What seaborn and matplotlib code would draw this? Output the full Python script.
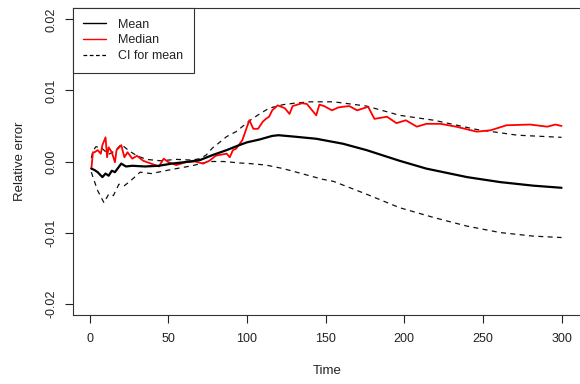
import matplotlib
matplotlib.use("Agg")
import matplotlib.pyplot as plt
from matplotlib.lines import Line2D
import seaborn as sns

# ---- data ----
mean_t = [1, 3, 5, 8, 10, 12, 14, 16, 20, 23, 27, 35, 44, 52, 60, 70, 78, 87, 95,
          100, 108, 116, 120, 130, 144, 161, 176, 197, 214, 240, 261, 282, 300]
mean_v = [-0.0010, -0.0012, -0.0015, -0.0022, -0.0017, -0.0020, -0.0013, -0.0015,
          -0.0003, -0.0007, -0.0006, -0.0007, -0.0006, -0.0003, -0.0001, 0.0002,
          0.0009, 0.0016, 0.0023, 0.0027, 0.0031, 0.0036, 0.0037, 0.0035, 0.0032,
          0.0025, 0.0016, 0.0001, -0.0010, -0.0022, -0.0029, -0.0034, -0.0037]

med_t = [1, 2, 3, 5, 7, 8, 10, 11, 12, 14, 16, 17, 20, 22, 24, 27, 30, 34, 39, 44,
         47, 50, 55, 61, 67, 72, 76, 80, 82, 87, 89, 91, 93, 97, 100, 101.5, 104,
         107, 110, 112, 114, 116, 119.5, 124, 127, 129, 135, 138, 144, 146, 149,
         154, 158, 161, 165, 170, 177, 181, 189, 195, 201, 208, 214, 223, 233, 246,
         255, 265, 280, 291, 296, 300]
med_v = [-0.0010, 0.0013, 0.0013, 0.0016, 0.0011, 0.0023, 0.0034, 0.0006, 0.0020,
         0.0013, -0.0001, 0.0016, 0.0023, 0.0006, 0.0013, 0.0004, 0.0008, 0.0001,
         -0.0003, -0.0007, 0.0004, -0.0001, -0.0005, -0.0001, 0.0000, -0.0003,
         0.0001, 0.0008, 0.0009, 0.0011, 0.0006, 0.0016, 0.0018, 0.0030, 0.0049,
         0.0058, 0.0046, 0.0046, 0.0056, 0.0060, 0.0063, 0.0072, 0.0079, 0.0075,
         0.0067, 0.0078, 0.0082, 0.0081, 0.0065, 0.0080, 0.0078, 0.0072, 0.0076,
         0.0077, 0.0078, 0.0072, 0.0077, 0.0060, 0.0063, 0.0054, 0.0058, 0.0049,
         0.0053, 0.0053, 0.0049, 0.0042, 0.0044, 0.0051, 0.0052, 0.0049, 0.0052,
         0.0050]

ci_up_t = [1, 2, 4, 8, 12, 16, 20, 25, 30, 36, 45, 55, 65, 70, 74, 78, 82, 87, 93,
           102, 108, 114, 123, 130, 140, 155, 176, 197, 219, 246, 272, 300]
ci_up_v = [0.0005, 0.0015, 0.0021, 0.0018, 0.0010, 0.0015, 0.0024, 0.0015, 0.0008,
           0.0003, 0.0001, 0.0003, 0.0002, 0.0004, 0.0009, 0.0019, 0.0026, 0.0035,
           0.0042, 0.0058, 0.0067, 0.0075, 0.0080, 0.0082, 0.0084, 0.0084, 0.0078,
           0.0065, 0.0058, 0.0045, 0.0037, 0.0034]

ci_lo_t = [1, 2, 5, 9, 12, 15, 18.5, 22, 26, 32, 39, 48, 55, 65, 76, 85, 95, 102,
           112, 123, 133, 148, 155, 176, 197, 219, 240, 261, 282, 300]
ci_lo_v = [-0.0015, -0.0022, -0.0041, -0.0058, -0.0046, -0.0048, -0.0032, -0.0034,
           -0.0027, -0.0015, -0.0017, -0.0013, -0.0010, -0.0006, 0.0000, 0.0000,
           -0.0002, -0.0003, -0.0005, -0.0010, -0.0016, -0.0025, -0.0028, -0.0046,
           -0.0065, -0.0079, -0.0091, -0.0100, -0.0105, -0.0107]

x_ticks = [0, 50, 100, 150, 200, 250, 300]
y_ticks = [-0.02, -0.01, 0.00, 0.01, 0.02]
y_tick_labels = ["-0.02", "-0.01", "0.00", "0.01", "0.02"]
legend_labels = ["Mean", "Median", "CI for mean"]

sns.set_style("white")
plt.rcParams["font.family"] = ["Liberation Sans", "DejaVu Sans"]

W, H = 580, 384
fig = plt.figure(figsize=(W / 100, H / 100), dpi=100)
ax = fig.add_axes([72.5 / W, 1 - 315 / H, (582 - 72.5) / W, (315 - 8) / H])

dash_kw = dict(color="#111111", lw=0.9, dashes=(4, 3.5), sort=False, estimator=None)
sns.lineplot(x=ci_up_t, y=ci_up_v, ax=ax, **dash_kw)
sns.lineplot(x=ci_lo_t, y=ci_lo_v, ax=ax, **dash_kw)
sns.lineplot(x=med_t, y=med_v, ax=ax, color="#ff0000", lw=1.3, sort=False, estimator=None)
sns.lineplot(x=mean_t, y=mean_v, ax=ax, color="black", lw=1.6, sort=False, estimator=None)

ax.set_xlim(-11, 313)
ax.set_ylim(-0.0216, 0.0216)
ax.set_xticks(x_ticks)
ax.set_xticklabels([str(v) for v in x_ticks])
ax.set_yticks(y_ticks)
ax.set_yticklabels(y_tick_labels, rotation=90, va="center")
ax.tick_params(axis="both", which="major", bottom=True, left=True, direction="out",
               length=6, width=0.8, colors="#222222", labelsize=9,
               labelcolor="#222222")
ax.tick_params(axis="x", pad=7)
ax.tick_params(axis="y", pad=5)
for s in ax.spines.values():
    s.set_color("#333333")
    s.set_linewidth(0.8)
    s.set_visible(True)

ax.set_xlabel("Time", fontsize=9.5, color="#222222", labelpad=14)
ax.set_ylabel("Relative error", fontsize=9.5, color="#222222", labelpad=14)

handles = [
    Line2D([], [], color="black", lw=1.0),
    Line2D([], [], color="#ff0000", lw=1.0),
    Line2D([], [], color="black", lw=0.9, dashes=(3, 2)),
]
leg = ax.legend(handles, legend_labels, loc="upper left", bbox_to_anchor=(0, 1),
                borderaxespad=0, fancybox=False, framealpha=1, edgecolor="#333333",
                fontsize=9, handlelength=1.85, handletextpad=0.95, borderpad=0.85,
                labelspacing=0.3)
leg.get_frame().set_linewidth(0.8)
for t in leg.get_texts():
    t.set_color("#222222")

fig.savefig("out.png", dpi=100)
